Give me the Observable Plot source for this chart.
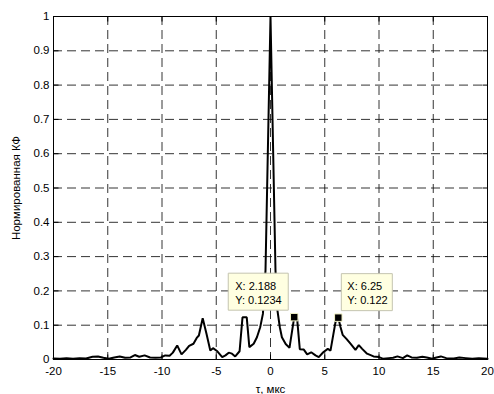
<!DOCTYPE html>
<html><head><meta charset="utf-8">
<script src="https://cdn.jsdelivr.net/npm/d3@7"></script>
<script src="https://cdn.jsdelivr.net/npm/@observablehq/plot@0.6"></script>
<style>body{margin:0;background:#fff} #chart{width:494px;height:394px}</style>
</head><body><div id="chart"></div>
<script>
const tau = [-20,-19.4,-18.8,-18.2,-17.6,-17,-16.4,-15.9,-15.4,-14.9,-14.4,-13.9,-13.4,-12.9,-12.5,-12.1,-11.6,-11.1,-10.6,-10.1,
  -9.7,-9.3,-9.0,-8.6,-8.2,-7.8,-7.5,-7.1,-6.8,-6.6,-6.25,-5.9,-5.55,-5.3,-4.9,-4.45,-4.15,-3.85,-3.55,-3.25,-2.85,-2.58,-2.19,
  -1.95,-1.55,-1.25,-0.95,-0.7,-0.46,0,0.46,0.6,0.86,1.05,1.4,1.75,2.188,2.45,2.7,3.07,3.38,3.75,4.15,4.45,4.86,5.28,5.53,5.99,
  6.25,6.45,6.65,7.0,7.37,7.83,8.14,8.45,8.9,9.5,10.0,10.4,10.9,11.3,11.7,12.2,12.6,13.0,13.5,14.0,14.4,14.9,15.3,15.7,16.2,
  16.9,17.4,18.0,18.6,19.2,20];
const acf = [0.003,0.002,0.004,0.002,0.004,0.003,0.008,0.009,0.005,0.002,0.006,0.009,0.005,0.006,0.013,0.008,0.012,0.006,0.005,0.006,
  0.012,0.011,0.02,0.041,0.015,0.028,0.04,0.046,0.063,0.07,0.12,0.075,0.026,0.033,0.024,0.007,0.012,0.02,0.017,0.009,0.024,0.123,0.123,
  0.036,0.046,0.065,0.094,0.133,0.26,1,0.26,0.152,0.094,0.065,0.045,0.034,0.1234,0.12,0.03,0.029,0.015,0.021,0.012,0.007,0.021,0.031,0.026,0.109,
  0.122,0.095,0.072,0.06,0.046,0.028,0.042,0.031,0.017,0.009,0.007,0.002,0.004,0.005,0.009,0.004,0.012,0.006,0.005,0.008,0.006,0.002,0.006,0.009,0.004,
  0.003,0.006,0.004,0.002,0.004,0.002];
const xTicks = [-20,-15,-10,-5,0,5,10,15,20];
const xTickLabels = ["-20","-15","-10","-5","0","5","10","15","20"];
const yTicks = [0,0.1,0.2,0.3,0.4,0.5,0.6,0.7,0.8,0.9,1];
const yTickLabels = ["0","0.1","0.2","0.3","0.4","0.5","0.6","0.7","0.8","0.9","1"];
const tipX = [2.188, 6.25];
const tipY = [0.1234, 0.122];
const tipText = ["X: 2.188\nY: 0.1234", "X: 6.25\nY: 0.122"];
const xLabel = "τ, мкс";
const yLabel = "Нормированная КФ";

const data = tau.map((t, i) => ({t, r: acf[i]}));
const tips = tipX.map((x, i) => ({x, y: tipY[i], text: tipText[i]}));

const font = "'Liberation Sans', Arial, Helvetica, sans-serif";
const tickShape = {draw(ctx, l) { ctx.moveTo(0, 0); ctx.lineTo(0, -l); }};
const boxSymbol = (x0, y0, w, h) => ({draw(ctx) { ctx.rect(x0, y0, w, h); }});
// box placement per tip (pixel offsets from the data tip)
const boxes = [
  {sym: boxSymbol(-66, -44, 60, 37), dx: -59},
  {sym: boxSymbol(3, -44, 51, 37), dx: 9}
];

const tipMarks = [];
tips.forEach((d, i) => {
  tipMarks.push(Plot.dot([d], {x: "x", y: "y", r: 1, symbol: boxes[i].sym, fill: "#ffffe1", stroke: "#c4c4b0", strokeWidth: 1}));
  tipMarks.push(Plot.text([d], {x: "x", y: "y", text: "text", dx: boxes[i].dx, dy: -25, textAnchor: "start", lineAnchor: "middle", lineHeight: 1.27, fontSize: 11, fill: "black"}));
});

const chart = Plot.plot({
  width: 494, height: 394,
  marginLeft: 53, marginRight: 7, marginTop: 16, marginBottom: 35,
  style: {fontFamily: font, fontSize: "11.5px", background: "white", color: "black"},
  x: {domain: [-20, 20]},
  y: {domain: [0, 1]},
  marks: [
    Plot.gridX(xTicks, {stroke: "#111", strokeOpacity: 0.85, strokeDasharray: "9,5"}),
    Plot.gridY(yTicks, {stroke: "#111", strokeOpacity: 0.85, strokeDasharray: "9,5"}),
    Plot.line(data, {x: "t", y: "r", stroke: "black", strokeWidth: 2, strokeLinejoin: "miter"}),
    Plot.vector(xTicks, {x: d => d, frameAnchor: "bottom", length: 5, anchor: "start", shape: tickShape, stroke: "black", strokeWidth: 1, strokeLinecap: "butt"}),
    Plot.vector(xTicks, {x: d => d, frameAnchor: "top", length: 5, anchor: "start", rotate: 180, shape: tickShape, stroke: "black", strokeWidth: 1, strokeLinecap: "butt"}),
    Plot.vector(yTicks, {y: d => d, frameAnchor: "left", length: 5, anchor: "start", rotate: 90, shape: tickShape, stroke: "black", strokeWidth: 1, strokeLinecap: "butt"}),
    Plot.vector(yTicks, {y: d => d, frameAnchor: "right", length: 5, anchor: "start", rotate: -90, shape: tickShape, stroke: "black", strokeWidth: 1, strokeLinecap: "butt"}),
    Plot.frame({stroke: "black", strokeWidth: 1}),
    Plot.axisX(xTicks, {tickSize: 0, tickPadding: 7, tickFormat: (d, i) => xTickLabels[i], fontSize: 11.5,
      label: xLabel, labelAnchor: "center", labelArrow: "none", labelOffset: 33}),
    Plot.axisY(yTicks, {tickSize: 0, tickPadding: 4, tickFormat: (d, i) => yTickLabels[i], fontSize: 11.5,
      label: yLabel, labelAnchor: "center", labelArrow: "none", labelOffset: 42}),
    ...tipMarks,
    Plot.dot(tips, {x: "x", y: "y", symbol: "square", r: 4.2, fill: "black", stroke: "#f4f4c8", strokeWidth: 1})
  ]
});
document.getElementById("chart").appendChild(chart);
</script>
</body></html>
